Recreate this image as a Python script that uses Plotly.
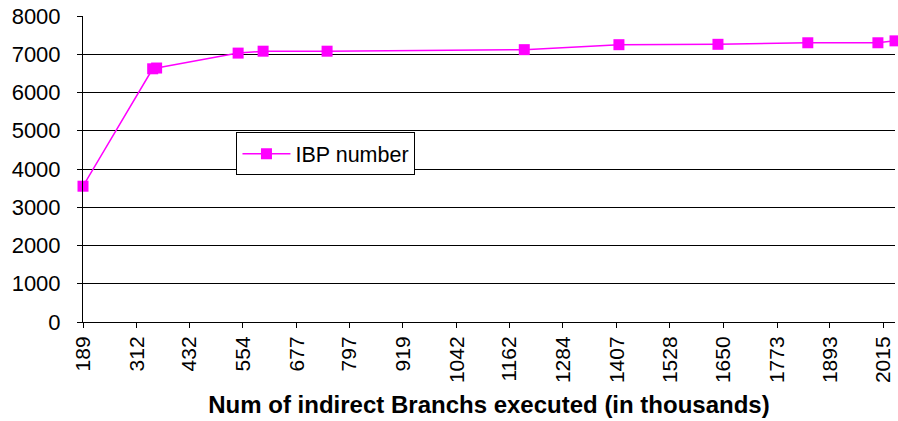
import plotly.graph_objects as go

# Data
branches_k = [189, 348, 357, 543, 600, 746, 1196, 1412, 1638, 1843, 2003, 2042]
ibp_number = [3550, 6620, 6640, 7030, 7080, 7080, 7120, 7250, 7260, 7300, 7300, 7350]
x_tick_labels = [189, 312, 432, 554, 677, 797, 919, 1042, 1162, 1284,
                 1407, 1528, 1650, 1773, 1893, 2015]
y_ticks = [0, 1000, 2000, 3000, 4000, 5000, 6000, 7000, 8000]

FONT = "Liberation Sans, Arial, sans-serif"
MAGENTA = "#FF00FF"

fig = go.Figure()
fig.add_trace(go.Scatter(
    x=branches_k, y=ibp_number, mode="lines+markers", name="IBP number",
    line=dict(color=MAGENTA, width=1.5),
    marker=dict(symbol="square", size=11, color=MAGENTA),
    cliponaxis=False,
    hoverinfo="skip",
))

fig.update_layout(
    width=898, height=421,
    margin=dict(l=83, r=3, t=16, b=99),
    paper_bgcolor="white", plot_bgcolor="white",
    font=dict(family=FONT, color="black", size=21),
    showlegend=True,
    hovermode=False,
    legend=dict(
        x=0.189, y=0.62, xanchor="left", yanchor="top",
        bgcolor="white", bordercolor="black", borderwidth=1,
        font=dict(family=FONT, size=21.5, color="black"),
        itemwidth=48,
    ),
)

fig.update_xaxes(
    range=[189, 2042],
    automargin=False,
    tickmode="array", tickvals=x_tick_labels,
    ticktext=[str(v) for v in x_tick_labels],
    tickangle=-90,
    ticks="outside", ticklen=5, tickcolor="black", tickwidth=1,
    showline=True, linecolor="black", linewidth=1,
    showgrid=False, zeroline=False,
    tickfont=dict(family=FONT, size=21, color="black"),
    title=dict(text="<b>Num of indirect Branchs executed (in thousands)</b>",
               font=dict(family=FONT, size=24, color="black"), standoff=14),
)

fig.update_yaxes(
    range=[0, 8000],
    automargin=False,
    tickmode="array", tickvals=y_ticks,
    ticks="outside", ticklen=5, tickcolor="black", tickwidth=1,
    ticklabelstandoff=12,
    showline=True, linecolor="black", linewidth=1,
    showgrid=True, gridcolor="black", gridwidth=1,
    zeroline=False,
    tickfont=dict(family=FONT, size=22, color="black"),
)

fig.write_html(
    "out.html",
    config={"displayModeBar": False, "staticPlot": True},
    post_script="document.body.style.margin='0';document.body.style.padding='0';",
)
